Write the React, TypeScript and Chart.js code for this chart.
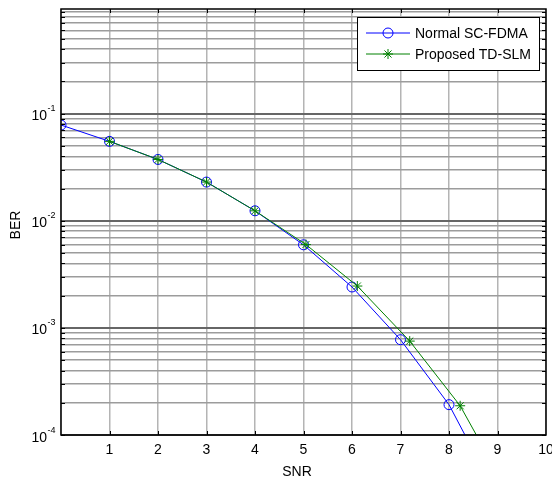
import React, { useEffect, useRef } from 'react';
import { Chart, registerables } from 'chart.js';

Chart.register(...registerables);

// ---- data ----
const snrNormal = [0, 1, 2, 3, 4, 5, 6, 7, 8, 9];
const berNormal = [0.0784, 0.0552, 0.0374, 0.0230, 0.0124, 0.00597, 0.00241, 0.000776, 0.000192, 0.0000265];

const snrProposed = [1, 2, 3, 4, 5.05, 6.11, 7.19, 8.23, 9.26];
const berProposed = [0.0552, 0.0374, 0.0230, 0.0124, 0.0060, 0.00246, 0.000753, 0.0001875, 0.000027];

const seriesNames = ['Normal SC-FDMA', 'Proposed TD-SLM'];

const xTickValues = [0, 1, 2, 3, 4, 5, 6, 7, 8, 9, 10];
const xTickLabels = ['', '1', '2', '3', '4', '5', '6', '7', '8', '9', '10'];

const yDecades = [1e-4, 1e-3, 1e-2, 1e-1];
const yDecadeExponents = ['-4', '-3', '-2', '-1'];

const X_MIN = 0;
const X_MAX = 10;
const Y_MIN = 1e-4;
const Y_MAX = 0.95;

const xTitle = 'SNR';
const yTitle = 'BER';

const FONT = '"Liberation Sans", Arial, Helvetica, sans-serif';
const BLUE = '#0000ff';
const GREEN = '#008000';

const isDecade = (v: number) => Math.abs(Math.log10(v) - Math.round(Math.log10(v))) < 1e-9;

const yGridValues: number[] = [];
yDecades.forEach((d) => {
  for (let m = 1; m <= 9; m++) {
    const v = d * m;
    if (v >= Y_MIN * 0.999 && v < Y_MAX) yGridValues.push(v);
  }
});

function drawStar(ctx: CanvasRenderingContext2D, x: number, y: number, r: number) {
  ctx.beginPath();
  ctx.moveTo(x - r, y);
  ctx.lineTo(x + r, y);
  ctx.moveTo(x, y - r);
  ctx.lineTo(x, y + r);
  const d = r * Math.SQRT1_2;
  ctx.moveTo(x - d, y - d);
  ctx.lineTo(x + d, y + d);
  ctx.moveTo(x - d, y + d);
  ctx.lineTo(x + d, y - d);
  ctx.stroke();
}

const decorPlugin = {
  id: 'decor',
  afterDraw(chart: any) {
    const { ctx, chartArea: a, scales } = chart;
    const xs = scales.x;
    const ys = scales.y;
    ctx.save();

    // inward tick marks
    ctx.strokeStyle = '#000';
    ctx.lineWidth = 1;
    ctx.beginPath();
    xTickValues.forEach((v) => {
      if (v <= X_MIN || v >= X_MAX) return;
      const px = Math.round(xs.getPixelForValue(v)) + 0.5;
      ctx.moveTo(px, a.bottom);
      ctx.lineTo(px, a.bottom - 4);
      ctx.moveTo(px, a.top);
      ctx.lineTo(px, a.top + 4);
    });
    yGridValues.forEach((v) => {
      const py = Math.round(ys.getPixelForValue(v)) + 0.5;
      ctx.moveTo(a.left, py);
      ctx.lineTo(a.left + 4, py);
      ctx.moveTo(a.right, py);
      ctx.lineTo(a.right - 4, py);
    });
    ctx.stroke();

    // axes box
    ctx.lineWidth = 1.5;
    ctx.strokeRect(a.left, a.top, a.right - a.left, a.bottom - a.top);

    // y tick labels with superscript exponents
    ctx.fillStyle = '#000';
    yDecades.forEach((v, i) => {
      const py = ys.getPixelForValue(v);
      ctx.font = `14px ${FONT}`;
      ctx.textAlign = 'right';
      ctx.textBaseline = 'alphabetic';
      ctx.fillText('10', 47, py + 6.5);
      ctx.font = `9px ${FONT}`;
      ctx.textAlign = 'left';
      ctx.fillText(yDecadeExponents[i], 47.5, py - 2.5);
    });

    // axis titles
    ctx.font = `14px ${FONT}`;
    ctx.textAlign = 'center';
    ctx.textBaseline = 'middle';
    ctx.fillText(xTitle, 297, 472);
    ctx.save();
    ctx.translate(16, (a.top + a.bottom) / 2 + 3);
    ctx.rotate(-Math.PI / 2);
    ctx.fillText(yTitle, 0, 0);
    ctx.restore();

    // legend
    const lx = 357.5, ly = 17.5, lw = 182, lh = 53;
    ctx.fillStyle = '#fff';
    ctx.fillRect(lx, ly, lw, lh);
    ctx.strokeStyle = '#000';
    ctx.lineWidth = 1;
    ctx.strokeRect(lx, ly, lw, lh);
    const rows = [33, 54];
    const colors = [BLUE, GREEN];
    rows.forEach((ry, i) => {
      ctx.strokeStyle = colors[i];
      ctx.lineWidth = 1;
      ctx.beginPath();
      ctx.moveTo(366, ry);
      ctx.lineTo(410, ry);
      ctx.stroke();
      if (i === 0) {
        ctx.beginPath();
        ctx.arc(388, ry, 5, 0, Math.PI * 2);
        ctx.stroke();
      } else {
        drawStar(ctx, 388, ry, 5);
      }
      ctx.fillStyle = '#000';
      ctx.font = `14px ${FONT}`;
      ctx.textAlign = 'left';
      ctx.textBaseline = 'middle';
      ctx.fillText(seriesNames[i], 415, ry + 1);
    });

    ctx.restore();
  },
};

export default function App() {
  const canvasRef = useRef<HTMLCanvasElement | null>(null);

  useEffect(() => {
    if (!canvasRef.current) return;
    const chart = new Chart(canvasRef.current, {
      type: 'scatter',
      data: {
        datasets: [
          {
            label: seriesNames[0],
            data: snrNormal.map((x, i) => ({ x, y: berNormal[i] })),
            showLine: true,
            borderColor: BLUE,
            borderWidth: 1,
            pointStyle: 'circle',
            pointRadius: 5,
            pointBorderColor: BLUE,
            pointBackgroundColor: 'rgba(0,0,0,0)',
            pointBorderWidth: 1,
            tension: 0,
            order: 1,
          },
          {
            label: seriesNames[1],
            data: snrProposed.map((x, i) => ({ x, y: berProposed[i] })),
            showLine: true,
            borderColor: GREEN,
            borderWidth: 1,
            pointStyle: 'star',
            pointRadius: 5,
            pointBorderColor: GREEN,
            pointBackgroundColor: GREEN,
            pointBorderWidth: 1,
            tension: 0,
            order: 0,
          },
        ],
      },
      options: {
        animation: false,
        responsive: false,
        devicePixelRatio: 1,
        layout: { padding: { left: 0, top: 9, right: 6, bottom: 0 } },
        plugins: {
          legend: { display: false },
          tooltip: { enabled: false },
        },
        scales: {
          x: {
            type: 'linear',
            min: X_MIN,
            max: X_MAX,
            afterBuildTicks: (scale: any) => {
              scale.ticks = xTickValues.map((v) => ({ value: v }));
            },
            afterFit: (scale: any) => {
              scale.height = 45;
              scale.paddingLeft = 0;
              scale.paddingRight = 0;
            },
            ticks: {
              autoSkip: false,
              maxRotation: 0,
              padding: 7,
              color: '#000',
              font: { family: FONT, size: 14 },
              callback: (v: any) => {
                const i = xTickValues.indexOf(Number(v));
                return i >= 0 ? xTickLabels[i] : '';
              },
            },
            grid: {
              color: '#b4b4b4',
              lineWidth: 1.5,
              drawTicks: false,
            },
            border: { display: false },
          },
          y: {
            type: 'logarithmic',
            min: Y_MIN,
            max: Y_MAX,
            afterBuildTicks: (scale: any) => {
              scale.ticks = yGridValues.map((v) => ({ value: v, major: isDecade(v) }));
            },
            afterFit: (scale: any) => {
              scale.width = 61;
              scale.paddingTop = 0;
              scale.paddingBottom = 0;
            },
            ticks: { display: false, autoSkip: false },
            grid: {
              color: (c: any) => (c.tick && isDecade(c.tick.value) ? '#666666' : '#9c9c9c'),
              lineWidth: (c: any) => (c.tick && isDecade(c.tick.value) ? 2 : 1.5),
              drawTicks: false,
            },
            border: { display: false },
          },
        },
      },
      plugins: [decorPlugin],
    } as any);
    return () => chart.destroy();
  }, []);

  return (
    <div style={{ position: 'absolute', left: 0, top: 0, width: 552, height: 480, background: '#fff' }}>
      <canvas ref={canvasRef} width={552} height={480} style={{ display: 'block' }} />
    </div>
  );
}
